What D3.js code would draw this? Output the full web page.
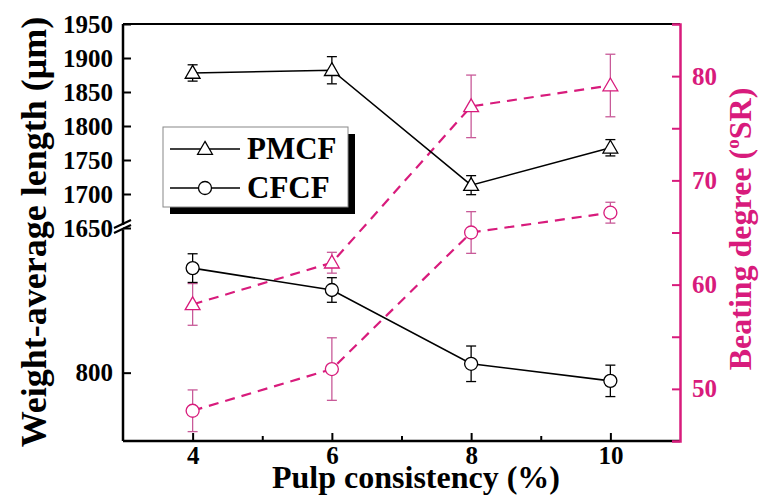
<!DOCTYPE html>
<html>
<head>
<meta charset="utf-8">
<script src="https://cdn.jsdelivr.net/npm/d3@7"></script>
<style>
  body { margin: 0; background: #fff; }
  text { font-family: "Liberation Serif", "Times New Roman", serif; font-weight: bold; }
</style>
</head>
<body>
<svg id="chart" width="759" height="501"></svg>
<script>
// datos
const consistency = [4, 6, 8, 10];
const pmcfLength = [1878, 1882, 1713, 1768];
const pmcfLengthErr = [12, 20, 14, 12];
const cfcfLength = [953, 921, 813, 788];
const cfcfLengthErr = [21, 18, 26, 23];
const pmcfBeating = [58.1, 62.1, 77.1, 79.1];
const pmcfBeatingErr = [2, 1, 3, 3];
const cfcfBeating = [47.9, 51.9, 65, 66.9];
const cfcfBeatingErr = [2, 3, 2, 1];

const xTicks = [4, 6, 8, 10];
const xMinor = [5, 7, 9];
const topTicks = [1650, 1700, 1750, 1800, 1850, 1900, 1950];
const lowTicks = [800];
const rightTicks = [50, 60, 70, 80];
const rightMinor = [55, 65, 75];

const magenta = "#d81b7c";
const magentaErr = "#c85a98";

const svg = d3.select("#chart");
const mLeft = 123, mRight = 680, mTop = 24, mBottom = 441;

const x = d3.scaleLinear().domain([3, 11]).range([mLeft, mRight]);
const yTop = d3.scaleLinear().domain([1650, 1950]).range([228, mTop]);
const yLow = d3.scaleLinear().domain([700, 1000]).range([mBottom, 236]);
const yR = d3.scaleLinear().domain([45, 85]).range([mBottom, mTop]);
const fmt = d3.format("d");

// marco
svg.append("line").attr("x1", mLeft).attr("x2", mRight).attr("y1", mTop).attr("y2", mTop)
  .attr("stroke", "#000").attr("stroke-width", 2);
svg.append("line").attr("x1", mLeft).attr("x2", mRight).attr("y1", mBottom).attr("y2", mBottom)
  .attr("stroke", "#000").attr("stroke-width", 2.5);

// eje izquierdo con corte
svg.append("line").attr("x1", mLeft).attr("x2", mLeft).attr("y1", mTop).attr("y2", 225)
  .attr("stroke", "#000").attr("stroke-width", 2.5);
svg.append("line").attr("x1", mLeft).attr("x2", mLeft).attr("y1", 230).attr("y2", mBottom)
  .attr("stroke", "#000").attr("stroke-width", 2.5);
[224, 229].forEach(yy => {
  svg.append("line").attr("x1", mLeft - 9).attr("x2", mLeft + 8).attr("y1", yy + 4).attr("y2", yy - 4)
    .attr("stroke", "#000").attr("stroke-width", 2);
});

const gTop = svg.append("g").attr("transform", `translate(${mLeft},0)`)
  .call(d3.axisLeft(yTop).tickValues(topTicks).tickFormat(fmt).tickSize(-8).tickPadding(10));
const gLow = svg.append("g").attr("transform", `translate(${mLeft},0)`)
  .call(d3.axisLeft(yLow).tickValues(lowTicks).tickFormat(fmt).tickSize(-8).tickPadding(10));
[gTop, gLow].forEach(g => {
  g.select(".domain").remove();
  g.selectAll("line").attr("stroke-width", 2);
  g.selectAll("text").attr("font-size", 25).attr("fill", "#000");
});

// eje x
const gx = svg.append("g").attr("transform", `translate(0,${mBottom})`)
  .call(d3.axisBottom(x).tickValues(xTicks).tickFormat(fmt).tickSize(-8).tickPadding(5));
gx.select(".domain").remove();
gx.selectAll("line").attr("stroke-width", 2);
gx.selectAll("text").attr("font-size", 25).attr("fill", "#000");
svg.append("g").attr("transform", `translate(0,${mBottom})`)
  .call(d3.axisBottom(x).tickValues(xMinor).tickSize(-5).tickFormat(""))
  .call(g => g.select(".domain").remove())
  .selectAll("line").attr("stroke-width", 2);

// eje derecho
const gr = svg.append("g").attr("transform", `translate(${mRight},0)`)
  .call(d3.axisRight(yR).tickValues(rightTicks).tickFormat(fmt).tickSize(-8).tickPadding(12));
gr.select(".domain").attr("stroke", magenta).attr("stroke-width", 2.5);
gr.selectAll("line").attr("stroke", magenta).attr("stroke-width", 2);
gr.selectAll("text").attr("font-size", 25).attr("fill", magenta);
svg.append("g").attr("transform", `translate(${mRight},0)`)
  .call(d3.axisRight(yR).tickValues(rightMinor).tickSize(-8).tickFormat(""))
  .call(g => g.select(".domain").remove())
  .selectAll("line").attr("stroke", magenta).attr("stroke-width", 2);

// titulos
svg.append("text")
  .attr("transform", `translate(46,232) rotate(-90)`)
  .attr("text-anchor", "middle").attr("font-size", 36)
  .text("Weight-average length (μm)");
svg.append("text")
  .attr("x", 416).attr("y", 488)
  .attr("text-anchor", "middle").attr("font-size", 32)
  .text("Pulp consistency (%)");
const rt = svg.append("text")
  .attr("transform", `translate(751,229) rotate(-90)`)
  .attr("text-anchor", "middle").attr("font-size", 32).attr("fill", magenta);
rt.append("tspan").text("Beating degree (");
rt.append("tspan").attr("font-size", 19).attr("dy", -12).text("o");
rt.append("tspan").attr("dy", 12).text("SR)");

// series
const triangle = d3.symbol().type(d3.symbolTriangle).size(95);

function serie(vals, errs, yScale, color, errColor, dashed, marker) {
  const pts = consistency.map((c, i) => [x(c), yScale(vals[i])]);
  const g = svg.append("g");
  consistency.forEach((c, i) => {
    const y1 = yScale(vals[i] - errs[i]), y2 = yScale(vals[i] + errs[i]);
    g.append("line").attr("x1", x(c)).attr("x2", x(c)).attr("y1", y1).attr("y2", y2)
      .attr("stroke", errColor).attr("stroke-width", 1.3);
    [y1, y2].forEach(yy => g.append("line")
      .attr("x1", x(c) - 5).attr("x2", x(c) + 5).attr("y1", yy).attr("y2", yy)
      .attr("stroke", errColor).attr("stroke-width", 1.3));
  });
  g.append("path").datum(pts)
    .attr("d", d3.line())
    .attr("fill", "none")
    .attr("stroke", color)
    .attr("stroke-width", dashed ? 2.2 : 1.6)
    .attr("stroke-dasharray", dashed ? "10,7" : null);
  pts.forEach(p => {
    if (marker === "tri") {
      g.append("path").attr("d", triangle)
        .attr("transform", `translate(${p[0]},${p[1] + 1})`)
        .attr("fill", "#fff").attr("stroke", color).attr("stroke-width", 1.3);
    } else {
      g.append("circle").attr("cx", p[0]).attr("cy", p[1]).attr("r", 6.5)
        .attr("fill", "#fff").attr("stroke", color).attr("stroke-width", 1.3);
    }
  });
}

serie(pmcfBeating, pmcfBeatingErr, yR, magenta, magentaErr, true, "tri");
serie(cfcfBeating, cfcfBeatingErr, yR, magenta, magentaErr, true, "circ");
serie(pmcfLength, pmcfLengthErr, yTop, "#000", "#000", false, "tri");
serie(cfcfLength, cfcfLengthErr, yLow, "#000", "#000", false, "circ");

// leyenda
const lg = svg.append("g");
lg.append("rect").attr("x", 170).attr("y", 134).attr("width", 185).attr("height", 80).attr("fill", "#000");
lg.append("rect").attr("x", 163).attr("y", 127).attr("width", 185).attr("height", 80)
  .attr("fill", "#fff").attr("stroke", "#888").attr("stroke-width", 1);
const legendItems = [["PMCF", "tri", 149], ["CFCF", "circ", 188]];
legendItems.forEach(([name, m, yy]) => {
  lg.append("line").attr("x1", 170).attr("x2", 240).attr("y1", yy).attr("y2", yy)
    .attr("stroke", "#000").attr("stroke-width", 1.6);
  if (m === "tri") {
    lg.append("path").attr("d", triangle).attr("transform", `translate(205,${yy + 1})`)
      .attr("fill", "#fff").attr("stroke", "#000").attr("stroke-width", 1.3);
  } else {
    lg.append("circle").attr("cx", 205).attr("cy", yy).attr("r", 6.5)
      .attr("fill", "#fff").attr("stroke", "#000").attr("stroke-width", 1.3);
  }
  lg.append("text").attr("x", 247).attr("y", yy + 10).attr("font-size", 31).text(name);
});
</script>
</body>
</html>
